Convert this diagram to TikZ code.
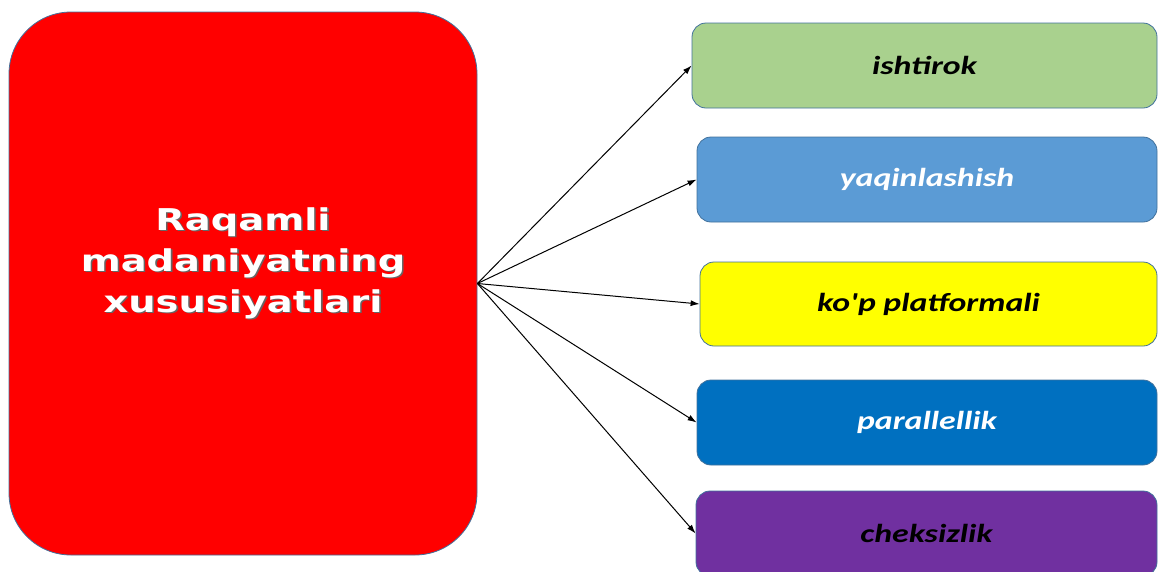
\documentclass[tikz,border=0pt]{standalone}
\usepackage{fontspec}
\usepackage{tikz}
\usetikzlibrary{positioning, arrows.meta}
\newfontfamily\titlefont[FakeStretch=1.28]{DejaVu Sans}
\newfontfamily\itemfont[FakeStretch=1.3]{Carlito}
\definecolor{framecol}{HTML}{41719C}
\definecolor{mainred}{HTML}{FF0000}
\definecolor{greenbox}{HTML}{A9D18E}
\definecolor{lightblue}{HTML}{5B9BD5}
\definecolor{yellowbox}{HTML}{FFFF00}
\definecolor{darkblue}{HTML}{0070C0}
\definecolor{purplebox}{HTML}{7030A0}
\newcommand{\shadowed}[1]{\makebox[0pt][l]{\kern1.6pt\raisebox{-1.6pt}{\color{black!60}#1}}#1}
\tikzstyle{Arrow} = [
%Create custom arrow style:
line width=1pt,
-{Latex[length=9pt, width=6pt]}
]

\begin{document}
\begin{tikzpicture}[x=1pt, y=-1pt,
			mainbox/.style = {rectangle, rounded corners=62pt, draw=framecol, line width=0.8pt, fill=mainred, minimum width=468pt, minimum height=543pt, inner sep=0pt},
			title/.style = {align=center, text=white, font=\titlefont\bfseries\fontsize{30}{41}\selectfont},
			feature/.style = {rectangle, rounded corners=14pt, draw=framecol, line width=0.8pt, minimum height=85pt, inner sep=0pt, font=\itemfont\bfseries\itshape\fontsize{26}{30}\selectfont},
		]
		\useasboundingbox (0,0) rectangle (1158,571);

		\node[mainbox](M) at (243,283.5){};
		\node[title](Mtext) at (243,264){\shadowed{Raqamli}\\\shadowed{madaniyatning}\\\shadowed{xususiyatlari}};

		\node[feature, fill=greenbox, minimum width=465pt](F1) at (924.5,65.5){ishtirok};
		\node[feature, fill=lightblue, text=white, minimum width=460pt](F2) at (927,179.5){yaqinlashish};
		\node[feature, fill=yellowbox, minimum width=457pt, minimum height=84pt](F3) at (928.5,304){ko'p platformali};
		\node[feature, fill=darkblue, text=white, minimum width=460pt](F4) at (927,422.5){parallellik};
		\node[feature, fill=purplebox, minimum width=461pt](F5) at (926.5,533.5){cheksizlik};

		\draw[Arrow](M.east)--(F1.west);
		\draw[Arrow](M.east)--(F2.west);
		\draw[Arrow](M.east)--(F3.west);
		\draw[Arrow](M.east)--(F4.west);
		\draw[Arrow](M.east)--(F5.west);

	\end{tikzpicture}
\end{document}
